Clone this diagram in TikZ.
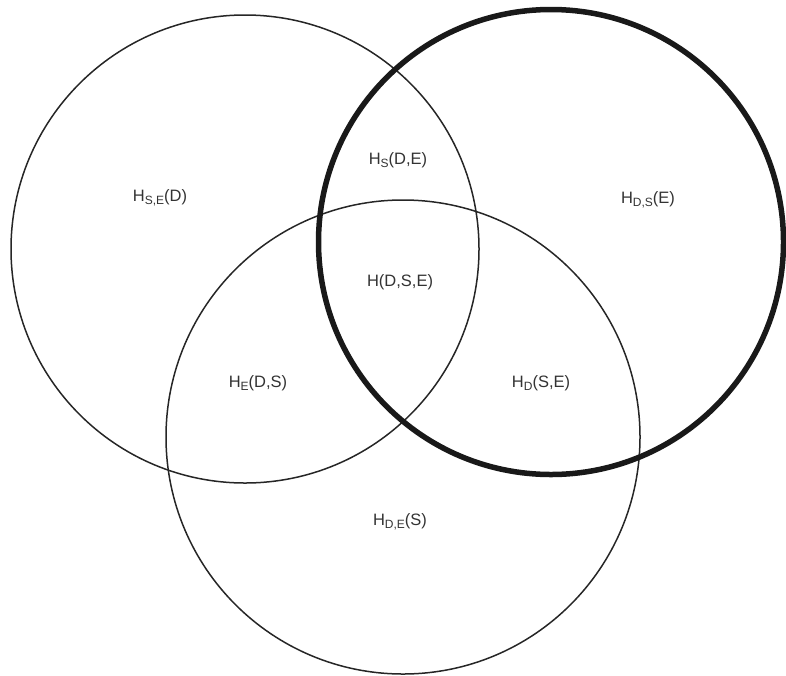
\documentclass[tikz,border=0pt]{standalone}
\usepackage{fontspec}
\setmainfont{Liberation Sans}
\newcommand{\lowsub}[1]{\raisebox{-0.35ex}{\fontsize{12}{12}\selectfont #1}}
\begin{document}
\begin{tikzpicture}[x=1pt,y=-1pt,
  thin ring/.style={draw=black!85, line width=1.5pt},
  thick ring/.style={draw=black!90, line width=5.5pt},
  lbl/.style={font=\fontsize{16.5}{19}\selectfont, inner sep=0pt, text=black!80}]
\useasboundingbox (0,0) rectangle (786,675);
\node[thin ring, circle, minimum size=468pt, inner sep=0pt] (L) at (245,249) {};
\node[thin ring, circle, minimum size=474pt, inner sep=0pt] (B) at (403,437) {};
\node[thick ring, circle, minimum size=465pt, inner sep=0pt] (R) at (551,242) {};
\node[lbl] (sed) at (160,198) {H\lowsub{S,E}(D)};
\node[lbl] (sde) at (398,160) {H\lowsub{S}(D,E)};
\node[lbl] (dse) at (648,200) {H\lowsub{D,S}(E)};
\node[lbl] (all) at (400,282) {H(D,S,E)};
\node[lbl] (eds) at (258,383) {H\lowsub{E}(D,S)};
\node[lbl] (dsee) at (541,383) {H\lowsub{D}(S,E)};
\node[lbl] (des) at (400,522) {H\lowsub{D,E}(S)};
\end{tikzpicture}
\end{document}
